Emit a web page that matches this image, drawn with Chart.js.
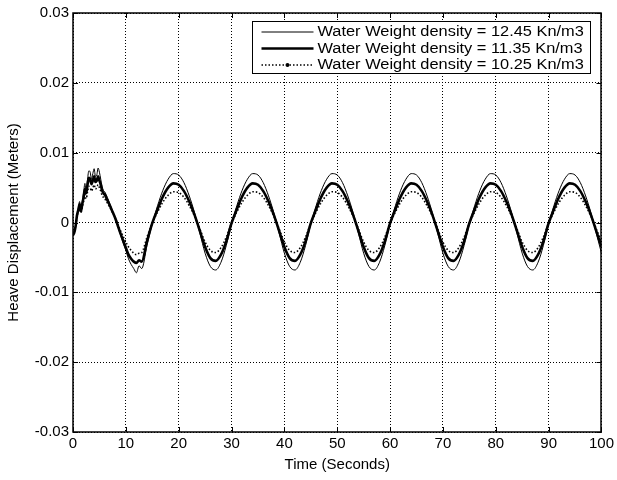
<!DOCTYPE html>
<html>
<head>
<meta charset="utf-8">
<script src="https://cdn.jsdelivr.net/npm/chart.js@4.4.0/dist/chart.umd.min.js"></script>
<style>
  html, body { margin: 0; padding: 0; background: #fff; }
  #wrap { width: 617px; height: 480px; }
</style>
</head>
<body>
<div id="wrap"><canvas id="heave" width="617" height="480"></canvas></div>
<script>
// time samples (s) - denser through the start-up transient
const times = [
  0, 0.25, 0.5, 0.75, 1, 1.25, 1.5, 1.75, 2, 2.25, 2.5, 2.75, 3, 3.25, 3.5, 3.75,
  4, 4.25, 4.5, 4.75, 5, 5.25, 5.5, 5.75, 6,
  6.5, 7, 7.5, 8, 8.5, 9, 9.5, 10, 10.5, 11, 11.5, 12, 12.5, 13,
  14, 15, 16, 17, 18, 19, 20, 21, 22, 23, 24, 25, 26, 27, 28,
  29, 30, 31, 32, 33, 34, 35, 36, 37, 38, 39, 40, 41, 42, 43,
  44, 45, 46, 47, 48, 49, 50, 51, 52, 53, 54, 55, 56, 57, 58,
  59, 60, 61, 62, 63, 64, 65, 66, 67, 68, 69, 70, 71, 72, 73,
  74, 75, 76, 77, 78, 79, 80, 81, 82, 83, 84, 85, 86, 87, 88,
  89, 90, 91, 92, 93, 94, 95, 96, 97, 98, 99, 100
];

// heave displacement (m), water weight density 12.45 Kn/m3 (thin line)
const heave1245 = [
  -0.0018, -0.0015, -0.0006, 0.0010, 0.0020, 0.0030, 0.0018, 0.0030, 0.0042, 0.0056, 0.0046, 0.0062, 0.0074, 0.0072, 0.0062, 0.0070,
  0.0077, 0.0066, 0.0068, 0.0078, 0.0072, 0.0062, 0.0052, 0.0046, 0.0044,
  0.0036, 0.0026, 0.0016, 0.0006, -0.0006, -0.0018, -0.0030, -0.0040, -0.0052, -0.0060, -0.0066, -0.0072, -0.0062, -0.0066,
  -0.0033, -0.0002, 0.0024, 0.0046, 0.0062, 0.0070, 0.0068, 0.0057, 0.0038, 0.0014, -0.0015, -0.0044, -0.0063, -0.0068, -0.0057,
  -0.0033, -0.0002, 0.0024, 0.0046, 0.0062, 0.0070, 0.0068, 0.0057, 0.0038, 0.0014, -0.0015, -0.0044, -0.0063, -0.0068, -0.0057,
  -0.0033, -0.0002, 0.0024, 0.0046, 0.0062, 0.0070, 0.0068, 0.0057, 0.0038, 0.0014, -0.0015, -0.0044, -0.0063, -0.0068, -0.0057,
  -0.0033, -0.0002, 0.0024, 0.0046, 0.0062, 0.0070, 0.0068, 0.0057, 0.0038, 0.0014, -0.0015, -0.0044, -0.0063, -0.0068, -0.0057,
  -0.0033, -0.0002, 0.0024, 0.0046, 0.0062, 0.0070, 0.0068, 0.0057, 0.0038, 0.0014, -0.0015, -0.0044, -0.0063, -0.0068, -0.0057,
  -0.0033, -0.0002, 0.0024, 0.0046, 0.0062, 0.0070, 0.0068, 0.0057, 0.0038, 0.0014, -0.0015, -0.0044
];

// 11.35 Kn/m3 (thick line)
const heave1135 = [
  -0.0018, -0.0014, -0.0005, 0.0010, 0.0018, 0.0026, 0.0016, 0.0026, 0.0036, 0.0048, 0.0042, 0.0054, 0.0064, 0.0062, 0.0055, 0.0060,
  0.0066, 0.0058, 0.0060, 0.0066, 0.0060, 0.0054, 0.0046, 0.0042, 0.0040,
  0.0032, 0.0024, 0.0015, 0.0006, -0.0005, -0.0016, -0.0026, -0.0036, -0.0046, -0.0052, -0.0056, -0.0058, -0.0054, -0.0056,
  -0.0027, -0.0001, 0.0019, 0.0037, 0.0050, 0.0056, 0.0054, 0.0045, 0.0030, 0.0011, -0.0012, -0.0035, -0.0051, -0.0055, -0.0046,
  -0.0027, -0.0001, 0.0019, 0.0037, 0.0050, 0.0056, 0.0054, 0.0045, 0.0030, 0.0011, -0.0012, -0.0035, -0.0051, -0.0055, -0.0046,
  -0.0027, -0.0001, 0.0019, 0.0037, 0.0050, 0.0056, 0.0054, 0.0045, 0.0030, 0.0011, -0.0012, -0.0035, -0.0051, -0.0055, -0.0046,
  -0.0027, -0.0001, 0.0019, 0.0037, 0.0050, 0.0056, 0.0054, 0.0045, 0.0030, 0.0011, -0.0012, -0.0035, -0.0051, -0.0055, -0.0046,
  -0.0027, -0.0001, 0.0019, 0.0037, 0.0050, 0.0056, 0.0054, 0.0045, 0.0030, 0.0011, -0.0012, -0.0035, -0.0051, -0.0055, -0.0046,
  -0.0027, -0.0001, 0.0019, 0.0037, 0.0050, 0.0056, 0.0054, 0.0045, 0.0030, 0.0011, -0.0012, -0.0035
];

// 10.25 Kn/m3 (dotted line)
const heave1025 = [
  -0.0018, -0.0013, -0.0005, 0.0008, 0.0015, 0.0022, 0.0014, 0.0022, 0.0030, 0.0040, 0.0034, 0.0044, 0.0052, 0.0050, 0.0045, 0.0049,
  0.0054, 0.0048, 0.0050, 0.0054, 0.0050, 0.0045, 0.0039, 0.0036, 0.0034,
  0.0028, 0.0021, 0.0014, 0.0006, -0.0003, -0.0012, -0.0020, -0.0028, -0.0035, -0.0040, -0.0044, -0.0046, -0.0044, -0.0043,
  -0.0021, -0.0001, 0.0015, 0.0029, 0.0039, 0.0044, 0.0043, 0.0036, 0.0024, 0.0009, -0.0009, -0.0028, -0.0040, -0.0043, -0.0036,
  -0.0021, -0.0001, 0.0015, 0.0029, 0.0039, 0.0044, 0.0043, 0.0036, 0.0024, 0.0009, -0.0009, -0.0028, -0.0040, -0.0043, -0.0036,
  -0.0021, -0.0001, 0.0015, 0.0029, 0.0039, 0.0044, 0.0043, 0.0036, 0.0024, 0.0009, -0.0009, -0.0028, -0.0040, -0.0043, -0.0036,
  -0.0021, -0.0001, 0.0015, 0.0029, 0.0039, 0.0044, 0.0043, 0.0036, 0.0024, 0.0009, -0.0009, -0.0028, -0.0040, -0.0043, -0.0036,
  -0.0021, -0.0001, 0.0015, 0.0029, 0.0039, 0.0044, 0.0043, 0.0036, 0.0024, 0.0009, -0.0009, -0.0028, -0.0040, -0.0043, -0.0036,
  -0.0021, -0.0001, 0.0015, 0.0029, 0.0039, 0.0044, 0.0043, 0.0036, 0.0024, 0.0009, -0.0009, -0.0028
];

const seriesLabels = [
  'Water Weight density = 12.45 Kn/m3',
  'Water Weight density = 11.35 Kn/m3',
  'Water Weight density = 10.25 Kn/m3'
];

const xTicks = [0, 10, 20, 30, 40, 50, 60, 70, 80, 90, 100];
const yTicks = [-0.03, -0.02, -0.01, 0, 0.01, 0.02, 0.03];
const yTickLabels = ['-0.03', '-0.02', '-0.01', '0', '0.01', '0.02', '0.03'];

const FONT = 'Liberation Sans, Arial, sans-serif';

function toPoints(ys) {
  return times.map((t, i) => ({ x: t, y: ys[i] }));
}

// MATLAB-ish frame: box, inward ticks on all four sides, boxed legend
const matlabFrame = {
  id: 'matlabFrame',
  afterDraw(chart) {
    const ctx = chart.ctx;
    const a = chart.chartArea;
    const xs = chart.scales.x;
    const ys = chart.scales.y;
    const tl = 5;

    ctx.save();
    ctx.strokeStyle = '#000';
    ctx.lineWidth = 1;
    ctx.beginPath();
    xTicks.forEach(v => {
      const px = Math.round(xs.getPixelForValue(v)) + 0.5;
      ctx.moveTo(px, a.bottom); ctx.lineTo(px, a.bottom - tl);
      ctx.moveTo(px, a.top); ctx.lineTo(px, a.top + tl);
    });
    yTicks.forEach(v => {
      const py = Math.round(ys.getPixelForValue(v)) + 0.5;
      ctx.moveTo(a.left, py); ctx.lineTo(a.left + tl, py);
      ctx.moveTo(a.right, py); ctx.lineTo(a.right - tl, py);
    });
    ctx.stroke();

    ctx.lineWidth = 1.5;
    ctx.strokeRect(Math.round(a.left), Math.round(a.top), Math.round(a.right - a.left), Math.round(a.bottom - a.top));

    // legend
    const bw = 338, bh = 52;
    const bx = Math.round(a.right - 11 - bw) + 0.5;
    const by = Math.round(a.top + 8) + 0.5;
    ctx.fillStyle = '#fff';
    ctx.fillRect(bx, by, bw, bh);
    ctx.lineWidth = 1;
    ctx.strokeRect(bx, by, bw, bh);

    chart.data.datasets.forEach((ds, i) => {
      const ry = by + 10.5 + i * 16.5;
      ctx.save();
      ctx.strokeStyle = '#000';
      ctx.lineWidth = ds.borderWidth;
      ctx.setLineDash(ds.borderDash || []);
      ctx.beginPath();
      ctx.moveTo(bx + 9, ry);
      ctx.lineTo(bx + 61, ry);
      ctx.stroke();
      if (ds.borderDash) {
        ctx.fillStyle = '#000';
        ctx.beginPath();
        ctx.arc(bx + 35, ry, 2, 0, Math.PI * 2);
        ctx.fill();
      }
      ctx.restore();

      ctx.save();
      ctx.fillStyle = '#000';
      ctx.font = '14px ' + FONT;
      ctx.textBaseline = 'middle';
      ctx.translate(bx + 65, ry);
      ctx.scale(1.17, 1);
      ctx.fillText(ds.label, 0, 0.5);
      ctx.restore();
    });
    ctx.restore();
  }
};

new Chart(document.getElementById('heave').getContext('2d'), {
  type: 'line',
  plugins: [matlabFrame],
  data: {
    datasets: [
      {
        label: seriesLabels[0],
        data: toPoints(heave1245),
        borderColor: '#000',
        borderWidth: 1,
        pointRadius: 0,
        cubicInterpolationMode: 'monotone',
        fill: false
      },
      {
        label: seriesLabels[1],
        data: toPoints(heave1135),
        borderColor: '#000',
        borderWidth: 2.6,
        pointRadius: 0,
        cubicInterpolationMode: 'monotone',
        fill: false
      },
      {
        label: seriesLabels[2],
        data: toPoints(heave1025),
        borderColor: '#000',
        borderWidth: 1.6,
        borderDash: [1.5, 2],
        pointRadius: 0,
        cubicInterpolationMode: 'monotone',
        fill: false
      }
    ]
  },
  options: {
    responsive: false,
    animation: false,
    layout: { padding: { left: 0, right: 14, top: 13, bottom: 0 } },
    plugins: {
      legend: { display: false },
      tooltip: { enabled: false }
    },
    scales: {
      x: {
        type: 'linear',
        min: 0,
        max: 100,
        afterBuildTicks: s => { s.ticks = xTicks.map(v => ({ value: v })); },
        afterFit: s => { s.height = 48; },
        ticks: {
          color: '#000',
          font: { family: FONT, size: 15 },
          padding: 3,
          maxRotation: 0,
          autoSkip: false
        },
        grid: { color: '#000', lineWidth: 1, drawTicks: false },
        border: { display: false, dash: [1, 2] },
        title: {
          display: true,
          text: 'Time (Seconds)',
          color: '#000',
          font: { family: FONT, size: 15 },
          padding: { top: 0, bottom: 6 }
        }
      },
      y: {
        type: 'linear',
        min: -0.03,
        max: 0.03,
        afterBuildTicks: s => { s.ticks = yTicks.map(v => ({ value: v })); },
        afterFit: s => { s.width = 73; },
        ticks: {
          color: '#000',
          font: { family: FONT, size: 15 },
          padding: 4,
          callback: (v, i) => yTickLabels[i]
        },
        grid: { color: '#000', lineWidth: 1, drawTicks: false },
        border: { display: false, dash: [1, 2] },
        title: {
          display: true,
          text: 'Heave Displacement (Meters)',
          color: '#000',
          font: { family: FONT, size: 15 },
          padding: { top: 5, bottom: 0 }
        }
      }
    }
  }
});
</script>
</body>
</html>
